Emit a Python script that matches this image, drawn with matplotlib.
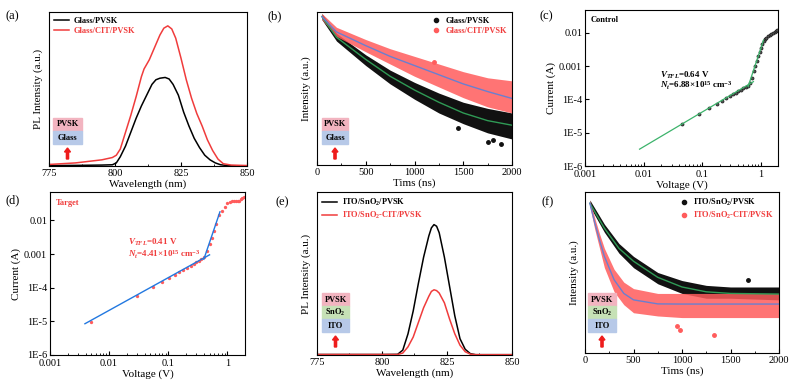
import matplotlib
matplotlib.use("Agg")
import matplotlib.pyplot as plt
from matplotlib.patches import Rectangle, FancyArrow

plt.rcParams['font.family'] = 'Liberation Serif'
plt.rcParams['mathtext.fontset'] = 'custom'
plt.rcParams['mathtext.it'] = 'Liberation Serif:italic:bold'
plt.rcParams['mathtext.rm'] = 'Liberation Serif:bold'
plt.rcParams['mathtext.bf'] = 'Liberation Serif:bold'

# (a) steady-state PL on glass
wl_a_black = [775, 785, 795, 799, 800.5, 802, 804, 806, 808, 810, 812, 814, 815.5, 817, 819, 820.5, 822, 824, 826, 828, 830, 832, 834, 836, 838, 840, 843, 850]
pl_a_black = [0.003, 0.004, 0.006, 0.008, 0.02, 0.06, 0.13, 0.22, 0.31, 0.39, 0.46, 0.53, 0.56, 0.57, 0.575, 0.565, 0.53, 0.46, 0.35, 0.26, 0.18, 0.12, 0.07, 0.04, 0.02, 0.008, 0.002, 0.001]
wl_a_red = [775, 785, 795, 799, 800.5, 802, 804, 806, 808, 810, 811, 813, 815, 817, 818.5, 820, 821.5, 823, 825, 827, 829, 831, 833, 835, 837, 839, 841, 844, 850]
pl_a_red = [0.01, 0.02, 0.04, 0.055, 0.07, 0.11, 0.22, 0.33, 0.45, 0.58, 0.63, 0.69, 0.77, 0.85, 0.895, 0.91, 0.89, 0.83, 0.70, 0.56, 0.44, 0.34, 0.26, 0.17, 0.10, 0.045, 0.015, 0.006, 0.003]

# (b) TRPL on glass
t_b = [50, 200, 500, 750, 1000, 1250, 1500, 1750, 2000]
fit_b_black = [0.97, 0.835, 0.69, 0.58, 0.49, 0.41, 0.34, 0.29, 0.26]
fit_b_red = [0.97, 0.87, 0.78, 0.71, 0.65, 0.59, 0.53, 0.48, 0.435]
hi_b_black = [0.99, 0.86, 0.72, 0.62, 0.54, 0.47, 0.41, 0.37, 0.34]
lo_b_black = [0.95, 0.81, 0.65, 0.53, 0.43, 0.34, 0.27, 0.21, 0.17]
hi_b_red = [0.99, 0.90, 0.82, 0.76, 0.71, 0.66, 0.61, 0.57, 0.55]
lo_b_red = [0.95, 0.84, 0.74, 0.66, 0.58, 0.51, 0.44, 0.38, 0.34]
out_b_black_t = [1450, 1750, 1800, 1890]
out_b_black_y = [0.24, 0.15, 0.165, 0.14]
out_b_red_t = [1200]
out_b_red_y = [0.67]

# (c) SCLC control
v_c = [0.045, 0.088, 0.13, 0.175, 0.215, 0.25, 0.29, 0.33, 0.37, 0.41, 0.45, 0.5, 0.55, 0.6, 0.65, 0.7, 0.75, 0.8, 0.85, 0.9, 0.95, 1.0, 1.05, 1.1, 1.15, 1.2, 1.3, 1.4, 1.5, 1.6, 1.7, 1.8, 1.9]
i_c = [1.8e-5, 3.6e-5, 5.5e-5, 7.5e-5, 9e-5, 1.1e-4, 1.25e-4, 1.4e-4, 1.6e-4, 1.75e-4, 1.95e-4, 2.15e-4, 2.35e-4, 2.6e-4, 3.2e-4, 4.5e-4, 7e-4, 1e-3, 1.4e-3, 2e-3, 2.7e-3, 3.5e-3, 4.5e-3, 5.5e-3, 6.3e-3, 7e-3, 8e-3, 8.7e-3, 9.3e-3, 1e-2, 1.07e-2, 1.13e-2, 1.18e-2]
fit_c_v = [0.0085, 0.74]
fit_c_i = [3.2e-6, 3.4e-4]
fit_c2_v = [0.6, 1.1]
fit_c2_i = [2.4e-4, 6e-3]

# (d) SCLC target
v_d = [0.005, 0.03, 0.055, 0.08, 0.105, 0.13, 0.155, 0.18, 0.21, 0.24, 0.27, 0.3, 0.33, 0.36, 0.4, 0.45, 0.5, 0.55, 0.6, 0.65, 0.72, 0.8, 0.9, 1.0, 1.1, 1.2, 1.3, 1.4, 1.5, 1.6, 1.7, 1.8, 1.9]
i_d = [9.5e-6, 5.6e-5, 1.05e-4, 1.5e-4, 2e-4, 2.4e-4, 2.9e-4, 3.4e-4, 3.9e-4, 4.5e-4, 5.1e-4, 5.7e-4, 6.3e-4, 7e-4, 8e-4, 1.2e-3, 2e-3, 3e-3, 5e-3, 8e-3, 1.5e-2, 1.9e-2, 2.5e-2, 3.2e-2, 3.6e-2, 3.8e-2, 3.8e-2, 3.8e-2, 3.8e-2, 3.9e-2, 4.3e-2, 4.7e-2, 5e-2]
fit_d_v = [0.0039, 0.5]
fit_d_i = [8.5e-6, 9.5e-4]
fit_d2_v = [0.4, 0.75]
fit_d2_i = [7e-4, 1.8e-2]

# (e) steady-state PL on ITO/SnO2
wl_e = [775, 800, 806, 808, 810, 812, 814, 816, 818, 819, 820, 821, 822, 824, 826, 828, 830, 832, 834, 836, 850]
pl_e_black = [0.003, 0.003, 0.004, 0.03, 0.13, 0.27, 0.44, 0.60, 0.73, 0.78, 0.80, 0.79, 0.75, 0.60, 0.42, 0.24, 0.10, 0.035, 0.008, 0.002, 0.002]
pl_e_red = [0.003, 0.003, 0.003, 0.012, 0.05, 0.11, 0.20, 0.29, 0.36, 0.39, 0.40, 0.395, 0.38, 0.32, 0.22, 0.13, 0.06, 0.02, 0.005, 0.002, 0.002]

# (f) TRPL on ITO/SnO2
t_f_black = [50, 200, 350, 500, 750, 1000, 1250, 1500, 2000]
fit_f_black = [0.93, 0.775, 0.65, 0.57, 0.47, 0.41, 0.38, 0.37, 0.366]
hi_f_black = [0.95, 0.80, 0.68, 0.60, 0.50, 0.45, 0.42, 0.41, 0.41]
lo_f_black = [0.91, 0.75, 0.62, 0.53, 0.43, 0.37, 0.34, 0.34, 0.33]
t_f_red = [50, 100, 150, 200, 300, 400, 500, 750, 1000, 1500, 2000]
fit_f_red = [0.93, 0.81, 0.70, 0.60, 0.455, 0.37, 0.33, 0.305, 0.304, 0.304, 0.304]
hi_f_red = [0.95, 0.84, 0.74, 0.65, 0.52, 0.44, 0.40, 0.37, 0.37, 0.37, 0.37]
lo_f_red = [0.91, 0.77, 0.65, 0.53, 0.38, 0.30, 0.25, 0.23, 0.22, 0.22, 0.22]
out_f_black_t = [1680]
out_f_black_y = [0.455]
out_f_red_t = [950, 980, 1330]
out_f_red_y = [0.17, 0.145, 0.11]

W, H = 794, 382
fig = plt.figure(figsize=(W / 100, H / 100), dpi=100)


def add_ax(l, t, r, b):
    return fig.add_axes([l / W, 1 - b / H, (r - l) / W, (b - t) / H])


def px(x, y):
    return x / W, 1 - y / H


def style(ax):
    ax.tick_params(direction='in', labelsize=7.5, length=3, pad=2)
    ax.tick_params(which='minor', direction='in', length=1.5)
    for s in ax.spines.values():
        s.set_linewidth(0.8)


def stack(x0, x1, y0, layers):
    # layers top to bottom, 13 px each, with a red arrow underneath
    y = y0
    for lab, col in layers:
        fig.patches.append(Rectangle(px(x0, y + 13), (x1 - x0) / W, 13 / H,
                                     transform=fig.transFigure, color=col, zorder=5))
        fig.text(*px((x0 + x1) / 2, y + 6.5), lab, ha='center', va='center',
                 fontsize=6, fontweight='bold', zorder=6)
        y += 13
    xm = (x0 + x1) / 2
    fig.patches.append(FancyArrow(*px(xm, y + 15), 0, 11 / H, width=2.2 / W,
                                  head_width=6 / W, head_length=4 / H,
                                  transform=fig.transFigure, color='#ee1c1c',
                                  length_includes_head=True, zorder=6))


def colour_legend(ax, loc, hl):
    leg = ax.legend(loc=loc, frameon=False, handlelength=hl, handletextpad=0.6,
                    borderaxespad=0.2, labelspacing=0.2, prop={'weight': 'bold', 'size': 6})
    for txt, c in zip(leg.get_texts(), ['black', red]):
        txt.set_color(c)


def log_axes(ax, xmax, ymax):
    ax.set_xscale('log')
    ax.set_yscale('log')
    ax.set_xlim(0.001, xmax)
    ax.set_ylim(1e-6, ymax)
    ax.set_xticks([0.001, 0.01, 0.1, 1])
    ax.set_xticklabels(['0.001', '0.01', '0.1', '1'])
    ax.set_yticks([1e-6, 1e-5, 1e-4, 0.001, 0.01])
    ax.set_yticklabels(['1E-6', '1E-5', '1E-4', '0.001', '0.01'])
    ax.yaxis.set_minor_locator(matplotlib.ticker.NullLocator())
    style(ax)
    ax.tick_params(axis='x', pad=3)
    ax.set_xlabel('Voltage (V)', fontsize=8, labelpad=1)
    ax.set_ylabel('Current (A)', fontsize=8, labelpad=2)


pink, blue_l, green_l = '#f2b4c0', '#b7c9e8', '#c6e1b6'
red, red_pts = '#f03c3c', '#ff5c5c'

# ---- (a)
ax = add_ax(49, 12, 247, 166)
ax.plot(wl_a_black, pl_a_black, color='black', lw=1.1, label='Glass/PVSK')
ax.plot(wl_a_red, pl_a_red, color=red, lw=1.1, label='Glass/CIT/PVSK')
ax.set_xlim(775, 850)
ax.set_ylim(0, 1)
ax.set_xticks([775, 800, 825, 850])
ax.set_xticks([787.5, 812.5, 837.5], minor=True)
ax.set_yticks([])
style(ax)
ax.set_xlabel('Wavelength (nm)', fontsize=8, labelpad=1)
ax.set_ylabel('PL Intensity (a.u.)', fontsize=8, labelpad=4)
colour_legend(ax, 'upper left', 1.8)
stack(53, 82, 118, [('PVSK', pink), ('Glass', blue_l)])
fig.text(*px(5, 16), '(a)', fontsize=9, va='center')

# ---- (b)
ax = add_ax(317, 12, 512, 165)
ax.fill_between(t_b, lo_b_black, hi_b_black, color='#111111', lw=0)
ax.plot(out_b_black_t, out_b_black_y, 'o', color='#111111', ms=2.5)
ax.fill_between(t_b, lo_b_red, hi_b_red, color=red_pts, alpha=0.85, lw=0)
ax.plot(out_b_red_t, out_b_red_y, 'o', color=red_pts, ms=2.5)
ax.plot(t_b, fit_b_black, color='#2f9a55', lw=1)
ax.plot(t_b, fit_b_red, color='#6a7fd0', lw=1)
ax.plot([], [], 'o', color='#111111', ms=3, label='Glass/PVSK')
ax.plot([], [], 'o', color=red_pts, ms=3, label='Glass/CIT/PVSK')
ax.set_xlim(0, 2000)
ax.set_ylim(0, 1)
ax.set_xticks([0, 500, 1000, 1500, 2000])
ax.set_xticks([250, 750, 1250, 1750], minor=True)
ax.set_yticks([])
style(ax)
ax.set_xlabel('Tims (ns)', fontsize=8, labelpad=1)
ax.set_ylabel('Intensity (a.u.)', fontsize=8, labelpad=4)
colour_legend(ax, 'upper right', 1.0)
stack(322, 348, 118, [('PVSK', pink), ('Glass', blue_l)])
fig.text(*px(268, 16), '(b)', fontsize=9, va='center')

# ---- (c)
ax = add_ax(585, 10, 778, 166)
ax.plot(v_c, i_c, 'o', color='#1a1a1a', mfc='#555555', ms=2.2, mew=0.5)
ax.plot(fit_c_v, fit_c_i, color='#3cb36b', lw=0.9)
ax.plot(fit_c2_v, fit_c2_i, color='#3cb36b', lw=0.9)
log_axes(ax, 1.94, 0.048)
ax.text(0.03, 0.96, 'Control', transform=ax.transAxes, fontsize=6, fontweight='bold', va='top')
fig.text(*px(660, 75), r'$V_{TFL}$=0.64 V', fontsize=6.5, fontweight='bold', va='center')
fig.text(*px(660, 86), r'$N_t$=6.88×10$^{15}$ cm$^{-3}$', fontsize=6.5, fontweight='bold', va='center')
fig.text(*px(540, 16), '(c)', fontsize=9, va='center')

# ---- (d)
ax = add_ax(50, 192, 245, 355)
ax.plot(v_d, i_d, 'o', color=red_pts, ms=2.4, mew=0)
ax.plot(fit_d_v, fit_d_i, color='#2278e0', lw=1)
ax.plot(fit_d2_v, fit_d2_i, color='#2278e0', lw=1)
log_axes(ax, 1.99, 0.07)
ax.text(0.03, 0.96, 'Target', transform=ax.transAxes, fontsize=6, fontweight='bold',
        va='top', color=red)
fig.text(*px(128, 242), r'$V_{TFL}$=0.41 V', fontsize=6.5, fontweight='bold', va='center', color=red)
fig.text(*px(128, 255), r'$N_t$=4.41×10$^{15}$ cm$^{-3}$', fontsize=6.5, fontweight='bold', va='center', color=red)
fig.text(*px(5, 200), '(d)', fontsize=9, va='center')

# ---- (e)
ax = add_ax(317, 192, 512, 355)
ax.plot(wl_e, pl_e_black, color='black', lw=1.1, label='ITO/SnO$_2$/PVSK')
ax.plot(wl_e, pl_e_red, color=red, lw=1.1, label='ITO/SnO$_2$-CIT/PVSK')
ax.set_xlim(775, 850)
ax.set_ylim(0, 1)
ax.set_xticks([775, 800, 825, 850])
ax.set_xticks([787.5, 812.5, 837.5], minor=True)
ax.set_yticks([])
style(ax)
ax.set_xlabel('Wavelength (nm)', fontsize=8, labelpad=1)
ax.set_ylabel('PL Intensity (a.u.)', fontsize=8, labelpad=4)
colour_legend(ax, 'upper left', 1.8)
stack(322, 349, 293, [('PVSK', pink), ('SnO$_2$', green_l), ('ITO', blue_l)])
fig.text(*px(275, 202), '(e)', fontsize=9, va='center')

# ---- (f)
ax = add_ax(585, 192, 779, 353)
ax.fill_between(t_f_black, lo_f_black, hi_f_black, color='#111111', lw=0)
ax.plot(out_f_black_t, out_f_black_y, 'o', color='#111111', ms=2.5)
ax.fill_between(t_f_red, lo_f_red, hi_f_red, color=red_pts, alpha=0.85, lw=0)
ax.plot(out_f_red_t, out_f_red_y, 'o', color=red_pts, ms=2.5)
ax.plot(t_f_black, fit_f_black, color='#2f9a55', lw=1)
ax.plot(t_f_red, fit_f_red, color='#6a7fd0', lw=1)
ax.plot([], [], 'o', color='#111111', ms=3, label='ITO/SnO$_2$/PVSK')
ax.plot([], [], 'o', color=red_pts, ms=3, label='ITO/SnO$_2$-CIT/PVSK')
ax.set_xlim(0, 2000)
ax.set_ylim(0, 1)
ax.set_xticks([0, 500, 1000, 1500, 2000])
ax.set_xticks([250, 750, 1250, 1750], minor=True)
ax.set_yticks([])
style(ax)
ax.set_xlabel('Tims (ns)', fontsize=8, labelpad=1)
ax.set_ylabel('Intensity (a.u.)', fontsize=8, labelpad=4)
colour_legend(ax, 'upper right', 1.0)
stack(588, 616, 293, [('PVSK', pink), ('SnO$_2$', green_l), ('ITO', blue_l)])
fig.text(*px(542, 202), '(f)', fontsize=9, va='center')

fig.savefig('out.png', dpi=100)
